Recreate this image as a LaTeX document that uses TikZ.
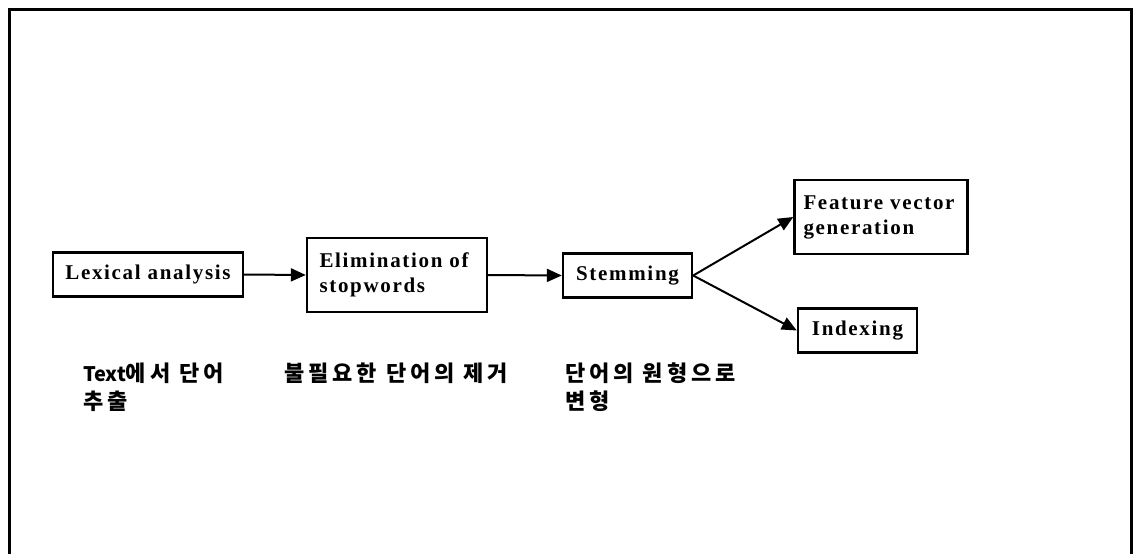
\documentclass[tikz,border=0pt]{standalone}
\usepackage{fontspec}
\setmainfont{Liberation Serif}
\newfontfamily\boxfont{Liberation Serif}[LetterSpace=8]
\newfontfamily\kofont{Noto Sans CJK KR}[LetterSpace=18]
\newfontfamily\kolatin{Noto Sans CJK KR}
\usetikzlibrary{arrows.meta}
\usetikzlibrary{positioning}
\tikzstyle{step_box} = [
    rectangle,
    draw=black,
    line width=2.4pt,
    font=\boxfont\bfseries\fontsize{21}{25}\selectfont,
    inner sep=0pt,
    minimum height=44pt
]
\tikzstyle{step_box2} = [
    step_box,
    align=left,
    text width=155pt,
    minimum height=74pt
]
\tikzstyle{ko_note} = [
    anchor=north west,
    align=left,
    inner sep=0pt,
    font=\kofont\bfseries\fontsize{22}{28}\selectfont
]
\tikzstyle{flow} = [
    line width=2pt,
    -{Triangle[length=15pt,width=13pt]}
]

\begin{document}
\begin{tikzpicture}[x=1pt, y=-1pt]
\useasboundingbox (0,0) rectangle (1133,554);
% frame, open at the bottom
\draw[line width=3pt] (9,556) -- (9,9) -- (1131,9) -- (1131,556);

\node [step_box, minimum width=190pt] (lex) at (148,274.5) {Lexical analysis};
\node [step_box2, minimum width=180pt] (elim) at (397,275) {Elimination of\\stopwords};
\node [step_box, minimum width=129pt] (stem) at (627.5,275.5) {Stemming};
\node [step_box2, minimum width=173pt] (feat) at (881,217) {Feature vector\\generation};
\node [step_box, minimum width=119pt] (idx) at (857.5,330.5) {Indexing};

\draw [flow] (lex.east) -- (elim.west);
\draw [flow] (elim.east) -- (stem.west);
\draw [flow] (stem.east) -- (feat.west);
\draw [flow] (stem.east) -- (idx.west);

\node [ko_note] (lexnote) at (83,363) {{\kolatin\bfseries\fontsize{20}{28}\selectfont Text}에서 단어\\추출};
\node [ko_note] (elimnote) at (284,363) {불필요한 단어의 제거};
\node [ko_note] (stemnote) at (565,363) {단어의 원형으로\\변형};
\end{tikzpicture}
\end{document}
